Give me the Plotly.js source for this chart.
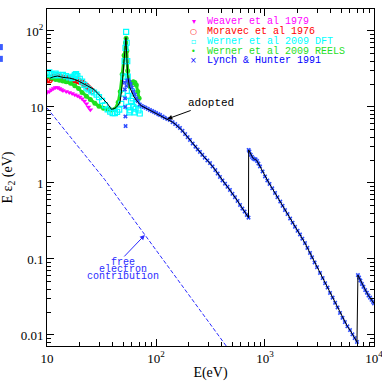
<!DOCTYPE html>
<html>
<head>
<meta charset="utf-8">
<script src="https://cdn.plot.ly/plotly-3.0.1.min.js"></script>
<style>
  html, body { margin: 0; padding: 0; background: #fff; }
  #plot { width: 382px; height: 382px; }
</style>
</head>
<body>
<div id="plot"></div>
<script>
// Weaver et al 1979
var weaverE = [10, 10.5, 11, 11.5, 12, 12.5, 13, 13.5, 14, 15, 16, 17, 18, 19, 20, 21, 22, 23, 24, 25];
var weaverY = [15.5, 16, 16.8, 17.5, 18, 18, 17.5, 17, 16.5, 16, 15.5, 15, 14.5, 14, 13.5, 12.8, 12, 11, 10, 9.2];

// Moravec et al 1976
var moravecE = [10, 10.3, 10.6, 11, 11.5, 12, 12.5, 13, 13.5, 14, 14.5, 15, 15.5, 16, 16.5, 17, 17.5, 18, 18.5, 19, 19.5, 20, 21, 22, 23, 24, 25, 26];
var moravecY = [22.5, 23.5, 22.5, 24, 25, 24.5, 25.5, 24, 24.5, 23.5, 24, 23.5, 24, 23, 24, 23, 23.5, 22.5, 23, 22, 22, 21.5, 21, 20, 19, 18, 17, 16.2];

// Werner et al 2009 DFT
var dftE = [10, 10.5, 11, 11.5, 12, 12.5, 13, 14, 15, 16, 17, 17.5, 18, 18.5, 19, 20, 21, 22, 23, 24, 25.5, 27, 28.5, 30, 32, 34, 36, 38, 40, 42, 44, 46, 48, 49.5, 50.5, 51.5, 52.5, 53.2, 53.8, 54.5, 55, 55.5, 56, 57, 58, 59, 60, 61, 62, 63.5, 65, 67, 69, 71];
var dftY = [27, 28.5, 27, 26, 27.5, 26.5, 26, 26.5, 25.5, 24.5, 24, 25, 26.5, 27, 25.5, 23.5, 21.5, 19.5, 18, 17, 16, 15.5, 14.5, 13.5, 12, 10.5, 9.3, 8.7, 8.3, 8.3, 8.6, 9.2, 11, 15, 25, 40, 60, 97, 70, 40, 25, 14, 10, 8.5, 9, 12, 16, 13, 10, 8.5, 9.5, 11, 9, 8.2];

// Werner et al 2009 REELS
var reelsE = [10, 11, 12, 13, 14, 15, 16.5, 18, 19.5, 21, 23, 25, 27.5, 30, 33, 36, 39, 42, 45, 47, 49, 51, 52.5, 53.2, 54, 55, 56.5, 58, 60, 62, 64, 66, 68, 70];
var reelsY = [25.5, 24, 23, 22.5, 22, 21.5, 20.5, 19, 17.5, 15.5, 13.8, 12.5, 11.2, 10.2, 9.6, 9.3, 9.1, 9.3, 11.5, 16, 27, 48, 70, 80, 55, 30, 21, 18.5, 20.5, 21.5, 21, 19.5, 16, 13];

// Lynch & Hunter 1991
var lynchE = [51.5, 51.8, 52.0, 52.2, 52.4, 52.6, 53.5, 54.5, 55.5, 57, 58.5, 60, 62, 64, 66, 68, 71, 74, 77, 80, 84, 88, 92, 96, 100, 105, 109, 115, 120, 127, 134, 142, 150, 158, 166, 175, 185, 195, 205, 217, 230, 241, 253, 266, 280, 296, 313, 330, 350, 368, 386, 407, 430, 453, 477, 503, 530, 560, 590, 620, 650, 680, 706, 708, 720, 740, 760, 780, 800, 820, 845, 870, 900, 950, 1000, 1050, 1100, 1165, 1236, 1300, 1380, 1450, 1525, 1610, 1700, 1790, 1884, 1990, 2094, 2200, 2327, 2450, 2588, 2700, 2850, 3000, 3197, 3380, 3560, 3750, 3950, 4170, 4400, 4630, 4877, 5140, 5400, 5700, 6025, 6340, 6650, 6980, 7120, 7300, 7500, 7750, 8000, 8300, 8600, 8900, 9200, 9500, 9800, 10000];
var lynchY = [21, 17, 13, 10, 7.5, 5.6, 19, 22, 22.5, 21.5, 20, 18, 16, 14.5, 13, 12, 10.8, 10.3, 10.0, 9.8, 9.45, 9.13, 8.85, 8.6, 8.35, 8.05, 7.85, 7.5, 7.2, 6.95, 6.74, 6.3, 5.95, 5.6, 5.29, 4.85, 4.4, 4.0, 3.68, 3.3, 3.0, 2.75, 2.56, 2.35, 2.15, 1.98, 1.83, 1.65, 1.48, 1.33, 1.2, 1.08, 0.98, 0.89, 0.81, 0.72, 0.65, 0.58, 0.514, 0.46, 0.42, 0.38, 0.35, 2.72, 2.6, 2.35, 2.2, 2.1, 2.05, 2.05, 1.95, 1.8, 1.65, 1.42, 1.22, 1.08, 0.97, 0.85, 0.74, 0.65, 0.57, 0.5, 0.44, 0.39, 0.34, 0.3, 0.265, 0.235, 0.21, 0.185, 0.162, 0.14, 0.12, 0.105, 0.09, 0.078, 0.0655, 0.056, 0.048, 0.042, 0.0357, 0.031, 0.0265, 0.023, 0.0195, 0.0168, 0.0148, 0.013, 0.0116, 0.0102, 0.0091, 0.0081, 0.0615, 0.057, 0.052, 0.047, 0.043, 0.039, 0.036, 0.033, 0.031, 0.029, 0.0272, 0.026];

// adopted curve below 70 eV (above that it follows Lynch & Hunter)
var adoptedLowE = [10.7, 11.5, 12.5, 14, 16, 18, 20, 22, 24, 27, 30, 33, 36, 39, 42, 45, 47, 49, 50.5, 52, 53, 54, 55, 57, 60, 63, 66, 68.5];
var adoptedLowY = [24, 25, 25.5, 24.5, 24, 23, 21.5, 20, 18.5, 17, 14.5, 12.5, 11, 9.3, 9.6, 10.5, 12, 20, 35, 55, 82, 45, 26, 18.5, 15.5, 13.5, 12.3, 11.3];

// free electron contribution
var freeE = [10, 15, 20, 34, 50, 79, 120, 180, 253, 350, 430, 500];
var freeY = [9.7, 4.7, 2.8, 1.1, 0.51, 0.207, 0.091, 0.041, 0.0213, 0.0112, 0.0075, 0.0056];

var xTickVals = [10, 100, 1000, 10000];
var xTickText = ['10', '10<sup>2</sup>', '10<sup>3</sup>', '10<sup>4</sup>'];
var yTickVals = [0.01, 0.1, 1, 10, 100];
var yTickText = ['0.01', '0.1', '1', '10', '10<sup>2</sup>'];

var legendNames = ['Weaver et al 1979', 'Moravec et al 1976', 'Werner et al 2009 DFT', 'Werner et al 2009 REELS', 'Lynch & Hunter 1991'];
var legendColors = ['#ff00ff', '#ff0000', '#00ffff', '#1fe01f', '#0000ff'];
var legendGlyphs = ['\u25BE', '\u25CB', '\u25AB', '\u2022', '\u00D7'];

function minorVals(lo, hi) {
  var v = [];
  for (var d = lo; d < hi; d++) {
    for (var m = 2; m <= 9; m++) v.push(m * Math.pow(10, d));
  }
  return v;
}

var adoptedE = adoptedLowE.slice();
var adoptedY = adoptedLowY.slice();
for (var i = 0; i < lynchE.length; i++) {
  if (lynchE[i] >= 71) { adoptedE.push(lynchE[i]); adoptedY.push(lynchY[i]); }
}

var traces = [
  {x: freeE, y: freeY, mode: 'lines', line: {color: '#2b2bff', width: 1, dash: '4px,2px'}},
  {x: weaverE, y: weaverY, mode: 'markers',
   marker: {symbol: 'triangle-down', size: 5, color: '#ff00ff'}},
  {x: moravecE, y: moravecY, mode: 'markers',
   marker: {symbol: 'circle-open', size: 5, color: '#ff0000', line: {width: 1.2}}},
  {x: reelsE, y: reelsY, mode: 'lines+markers', line: {color: '#1fe01f', width: 3},
   marker: {symbol: 'circle', size: 5, color: '#1fe01f'}},
  {x: dftE, y: dftY, mode: 'markers',
   marker: {symbol: 'square-open', size: 5, color: '#00ffff', line: {width: 1.2}}},
  {x: lynchE, y: lynchY, mode: 'markers',
   marker: {symbol: 'x', size: 4, color: '#3050ff'}},
  {x: adoptedE, y: adoptedY, mode: 'lines', line: {color: '#000000', width: 1}}
];

var monoFont = 'Liberation Mono, DejaVu Sans Mono, monospace';
var serifFont = 'Liberation Serif, DejaVu Serif, serif';

var annotations = [];
// legend rows (pixel layout of the original legend)
var rowY = [0.962, 0.933, 0.903, 0.873, 0.846];
for (var k = 0; k < legendNames.length; k++) {
  annotations.push({xref: 'paper', yref: 'paper', x: 0.4495, y: rowY[k], text: legendGlyphs[k],
    showarrow: false, xanchor: 'center', yanchor: 'middle',
    font: {family: 'DejaVu Sans', size: 8, color: legendColors[k]}});
  annotations.push({xref: 'paper', yref: 'paper', x: 0.482, y: rowY[k], text: legendNames[k],
    showarrow: false, xanchor: 'left', yanchor: 'middle',
    font: {family: monoFont, size: 10, color: legendColors[k]}});
}
// "adopted" label pointing at the curve
annotations.push({x: Math.log10(lynchE[29]), y: Math.log10(lynchY[29]), text: 'adopted',
  showarrow: true, arrowhead: 2, arrowsize: 1, arrowwidth: 1, arrowcolor: '#000',
  ax: 44, ay: -16, font: {family: monoFont, size: 11, color: '#000'}});
// free electron label
var feLines = ['free', 'electron', 'contribution'];
var feY = [0.249, 0.227, 0.205];
for (var j = 0; j < feLines.length; j++) {
  annotations.push({xref: 'paper', yref: 'paper', x: 0.2324, y: feY[j], text: feLines[j],
    showarrow: false, xanchor: 'center', yanchor: 'middle',
    font: {family: monoFont, size: 10, color: '#2b2bff'}});
}
annotations.push({x: Math.log10(freeE[5]), y: Math.log10(freeY[5]), text: '',
  showarrow: true, arrowhead: 2, arrowsize: 1, arrowwidth: 1, arrowcolor: '#2b2bff',
  ax: -22, ay: 23});

var axisCommon = {
  type: 'log', showgrid: false, zeroline: false, showline: true, linecolor: '#000', linewidth: 1,
  ticks: 'inside', ticklen: 7, tickcolor: '#000', tickwidth: 1, mirror: 'allticks',
  ticklabeloverflow: 'allow',
  tickfont: {family: serifFont, size: 13, color: '#000'}
};

var layout = {
  width: 382, height: 382,
  margin: {l: 47, r: 8, t: 9, b: 36},
  paper_bgcolor: '#fff', plot_bgcolor: '#fff',
  showlegend: false,
  xaxis: Object.assign({}, axisCommon, {
    range: [1, 4.0001], tickmode: 'array', tickvals: xTickVals, ticktext: xTickText,
    minor: {ticks: 'inside', ticklen: 4, tickcolor: '#000', tickvals: minorVals(1, 4), showgrid: false},
    title: {text: 'E(eV)', font: {family: serifFont, size: 14, color: '#000'}, standoff: 2}
  }),
  yaxis: Object.assign({}, axisCommon, {
    range: [-2.145, 2.289], tickmode: 'array', tickvals: yTickVals, ticktext: yTickText,
    minor: {ticks: 'inside', ticklen: 4, tickcolor: '#000', tickvals: minorVals(-3, 3), showgrid: false},
    title: {text: 'E \u03B5<sub>2</sub> (eV)', font: {family: serifFont, size: 14, color: '#000'}, standoff: 8}
  }),
  annotations: annotations,
  shapes: [
    {type: 'rect', xref: 'paper', yref: 'paper', x0: -0.1437, x1: -0.135, y0: 0.878, y1: 0.896,
     fillcolor: '#3a5cff', line: {width: 0}},
    {type: 'rect', xref: 'paper', yref: 'paper', x0: -0.1437, x1: -0.135, y0: 0.843, y1: 0.861,
     fillcolor: '#3a5cff', line: {width: 0}}
  ]
};

Plotly.newPlot('plot', traces, layout, {staticPlot: true, displayModeBar: false});
</script>
</body>
</html>
